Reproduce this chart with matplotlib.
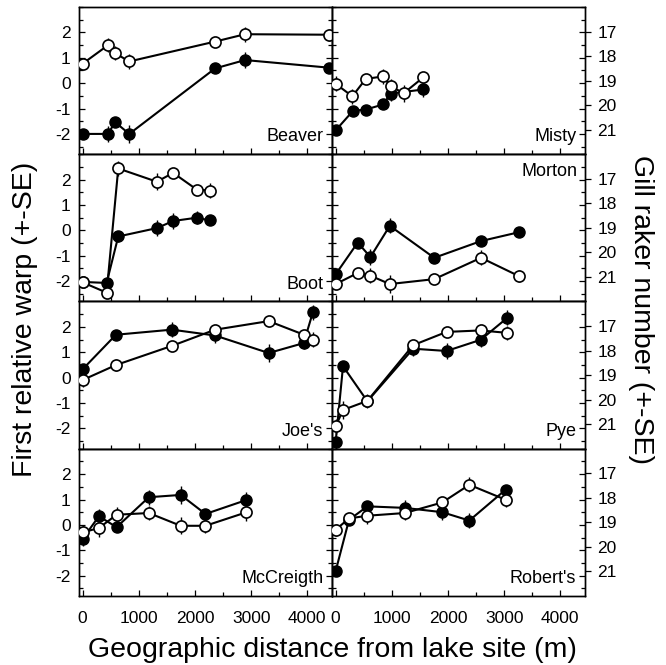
import matplotlib
matplotlib.use("Agg")
import matplotlib.pyplot as plt
from matplotlib.ticker import MultipleLocator

plt.rcParams['font.family'] = ['Liberation Sans', 'DejaVu Sans']
plt.rcParams['axes.unicode_minus'] = False

# distance from lake site (m), first relative warp (filled), gill rakers (open)
beaver_x = [0, 456, 575, 830, 2358, 2891, 4384]
beaver_warp = [-2.0, -2.0, -1.53, -2.0, 0.58, 0.91, 0.61]
beaver_warp_se = [0.15, 0.3, 0.2, 0.35, 0.2, 0.3, 0.15]
beaver_gill = [18.31, 17.55, 17.88, 18.22, 17.41, 17.11, 17.13]
beaver_gill_se = [0.2, 0.3, 0.3, 0.3, 0.2, 0.3, 0.25]

misty_x_warp = [0, 309, 536, 845, 982, 1559]
misty_warp = [-1.86, -1.09, -1.04, -0.84, -0.41, -0.25]
misty_warp_se = [0.15, 0.15, 0.15, 0.15, 0.3, 0.3]
misty_x_gill = [0, 297, 536, 845, 982, 1214, 1559]
misty_gill = [19.13, 19.64, 18.93, 18.83, 19.24, 19.51, 18.87]
misty_gill_se = [0.3, 0.3, 0.2, 0.3, 0.3, 0.35, 0.2]

boot_x = [0, 427, 634, 1321, 1612, 2032, 2269]
boot_warp = [-2.03, -2.07, -0.24, 0.09, 0.37, 0.50, 0.39]
boot_warp_se = [0.15, 0.2, 0.2, 0.3, 0.3, 0.25, 0.15]
boot_gill = [21.22, 21.64, 16.58, 17.12, 16.76, 17.44, 17.48]
boot_gill_se = [0.2, 0.2, 0.3, 0.35, 0.2, 0.2, 0.3]

morton_x = [0, 393, 619, 964, 1755, 2588, 3267]
morton_warp = [-1.73, -0.48, -1.05, 0.18, -1.08, -0.42, -0.07]
morton_warp_se = [0.2, 0.2, 0.3, 0.3, 0.2, 0.2, 0.2]
morton_gill = [21.29, 20.84, 20.95, 21.29, 21.09, 20.22, 20.97]
morton_gill_se = [0.2, 0.2, 0.3, 0.35, 0.2, 0.3, 0.25]

joes_x = [0, 593, 1588, 2358, 3313, 3935, 4100]
joes_warp = [0.33, 1.69, 1.89, 1.66, 0.97, 1.36, 2.58]
joes_warp_se = [0.15, 0.15, 0.3, 0.3, 0.35, 0.25, 0.3]
joes_gill = [19.20, 18.59, 17.81, 17.15, 16.80, 17.35, 17.55]
joes_gill_se = [0.3, 0.25, 0.2, 0.2, 0.2, 0.2, 0.3]

pye_x = [0, 131, 565, 1380, 1975, 2582, 3058]
pye_warp = [-2.53, 0.45, -0.93, 1.14, 1.05, 1.49, 2.36]
pye_warp_se = [0.15, 0.2, 0.2, 0.3, 0.3, 0.3, 0.3]
pye_gill = [21.09, 20.42, 20.05, 17.78, 17.24, 17.18, 17.28]
pye_gill_se = [0.3, 0.35, 0.3, 0.2, 0.2, 0.2, 0.3]

mccreigth_x = [0, 290, 604, 1179, 1746, 2187, 2916]
mccreigth_warp = [-0.55, 0.34, -0.09, 1.09, 1.18, 0.43, 0.98]
mccreigth_warp_se = [0.3, 0.3, 0.15, 0.3, 0.35, 0.2, 0.3]
mccreigth_gill = [19.41, 19.23, 18.69, 18.62, 19.14, 19.14, 18.59]
mccreigth_gill_se = [0.3, 0.35, 0.3, 0.3, 0.35, 0.3, 0.35]

roberts_x = [0, 238, 565, 1232, 1898, 2380, 3028]
roberts_warp = [-1.82, 0.20, 0.73, 0.67, 0.50, 0.17, 1.39]
roberts_warp_se = [0.15, 0.2, 0.2, 0.3, 0.3, 0.3, 0.2]
roberts_gill = [19.30, 18.84, 18.73, 18.62, 18.19, 17.47, 18.08]
roberts_gill_se = [0.25, 0.2, 0.35, 0.3, 0.2, 0.3, 0.3]

panels = [
  ["Beaver", beaver_x, beaver_warp, beaver_warp_se, beaver_x, beaver_gill, beaver_gill_se, "bottom"],
  ["Misty", misty_x_warp, misty_warp, misty_warp_se, misty_x_gill, misty_gill, misty_gill_se, "bottom"],
  ["Boot", boot_x, boot_warp, boot_warp_se, boot_x, boot_gill, boot_gill_se, "bottom"],
  ["Morton", morton_x, morton_warp, morton_warp_se, morton_x, morton_gill, morton_gill_se, "top"],
  ["Joe's", joes_x, joes_warp, joes_warp_se, joes_x, joes_gill, joes_gill_se, "bottom"],
  ["Pye", pye_x, pye_warp, pye_warp_se, pye_x, pye_gill, pye_gill_se, "bottom"],
  ["McCreigth", mccreigth_x, mccreigth_warp, mccreigth_warp_se, mccreigth_x, mccreigth_gill, mccreigth_gill_se, "bottom"],
  ["Robert's", roberts_x, roberts_warp, roberts_warp_se, roberts_x, roberts_gill, roberts_gill_se, "bottom"],
]

warp_ticks = [-2, -1, 0, 1, 2]
gill_ticks = [17, 18, 19, 20, 21]
dist_ticks = [0, 1000, 2000, 3000, 4000]

fig, axes = plt.subplots(4, 2, figsize=(6.66, 6.65), dpi=100)
fig.subplots_adjust(left=0.1186, right=0.8784, top=0.9895, bottom=0.1038, hspace=0, wspace=0)

for k in range(8):
  name, xw, w, wse, xg, g, gse, where = panels[k]
  row = k // 2
  col = k % 2
  ax = axes[row][col]
  ax2 = ax.twinx()

  ax.errorbar(xw, w, yerr=wse, color='black', lw=1.5, elinewidth=1.0, capsize=0,
              marker='o', ms=8, mfc='black', mec='black', mew=1.0, zorder=3)
  ax2.errorbar(xg, g, yerr=gse, color='black', lw=1.5, elinewidth=1.0, capsize=0,
               marker='o', ms=8, mfc='white', mec='black', mew=1.2, zorder=4)

  ax.set_xlim(-65, 4440)
  ax.set_ylim(-2.8, 3.0)
  ax2.set_ylim(22, 16)

  ax.set_xticks(dist_ticks)
  ax.xaxis.set_minor_locator(MultipleLocator(500))
  ax.set_yticks(warp_ticks)
  ax.yaxis.set_minor_locator(MultipleLocator(0.5))
  ax.tick_params(axis='both', which='both', direction='in', labelsize=12.5, width=0.9)
  ax.tick_params(axis='y', which='both', left=True, right=True)
  ax.tick_params(axis='both', which='major', length=4)
  ax.tick_params(axis='both', which='minor', length=3)
  ax.tick_params(axis='y', pad=6)
  ax.tick_params(axis='x', pad=11)

  if col == 0:
    ax.set_yticklabels([str(t) for t in warp_ticks])
    ax2.set_yticks([])
  else:
    ax.set_yticklabels([])
    ax2.set_yticks(gill_ticks)
    ax2.tick_params(axis='y', direction='out', length=4, width=0.9, labelsize=12.5, pad=5)
  if row < 3:
    ax.set_xticklabels([])
  else:
    ax.set_xticklabels([str(t) for t in dist_ticks])

  for a in (ax, ax2):
    for s in a.spines.values():
      s.set_linewidth(1.0)

  if where == "top":
    ax.text(0.972, 0.94, name, transform=ax.transAxes, ha='right', va='top', fontsize=13, zorder=6)
  else:
    ax.text(0.965, 0.06, name, transform=ax.transAxes, ha='right', va='bottom', fontsize=13, zorder=6)

fig.text(0.499, 0.022, "Geographic distance from lake site (m)", ha='center', va='center', fontsize=20.5)
fig.text(0.0375, 0.52, "First relative warp (+-SE)", ha='center', va='center', rotation=90, fontsize=20.5)
fig.text(0.962, 0.535, "Gill raker number (+-SE)", ha='center', va='center', rotation=-90, fontsize=20.5)

plt.savefig("out.png", dpi=100)
